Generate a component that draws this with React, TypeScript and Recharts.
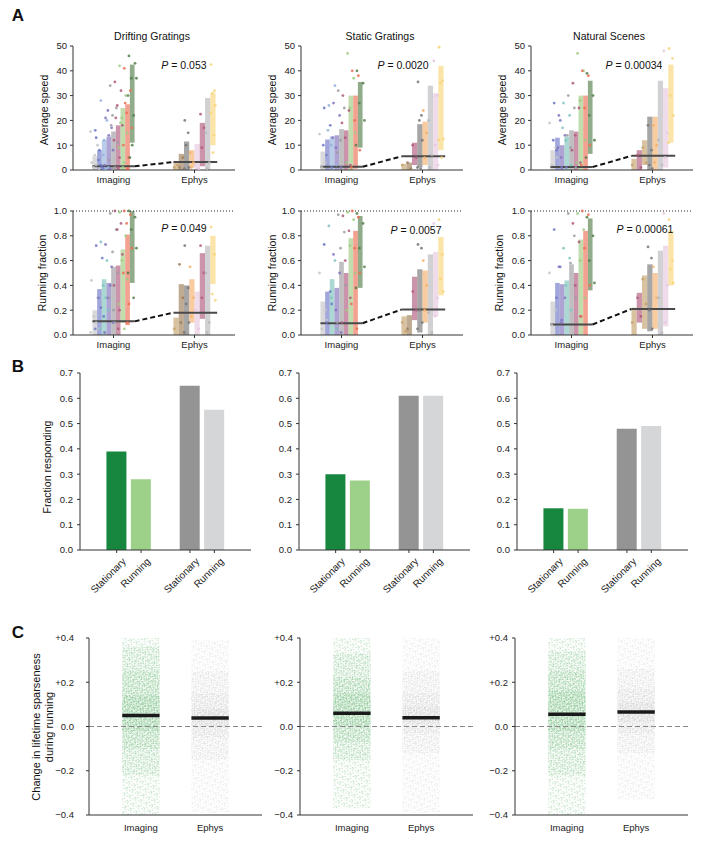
import React from 'react';
import { ComposedChart, BarChart, Bar, Cell, XAxis, YAxis, Scatter, ReferenceArea, ReferenceLine } from 'recharts';

const FONT = '"Liberation Sans", Arial, Helvetica, sans-serif';
const AX = '#333';
const TICK = { fontSize: 9.5, fill: '#222' };

// ---------------- shared labels ----------------
const STIMULI = ['Drifting Gratings', 'Static Gratings', 'Natural Scenes'];
const GROUP_LABELS = ['Imaging', 'Ephys'];
const SPEED_TICKS = [0, 10, 20, 30, 40, 50];
const FRACTION_TICKS = [0, 0.2, 0.4, 0.6, 0.8, 1.0];
const RESP_TICKS = [0, 0.1, 0.2, 0.3, 0.4, 0.5, 0.6, 0.7];
const SPARSE_TICKS = [-0.4, -0.2, 0, 0.2, 0.4];
const P_SPEED = ['0.053', '0.0020', '0.00034'];
const P_RUN = ['0.049', '0.0057', '0.00061'];

// ---------------- Panel A: Drifting gratings ----------------
const dgSpeedImgRanges = [[0, 5.5], [0, 8], [0, 12], [0, 13.5], [0, 15.5], [0, 18], [0, 25], [0, 26.5], [11, 42.5]];
const dgSpeedImgDots = [[3, 10, 1, 0.5, 15.5, 2, 6], [13, 1, 4, 0.5, 16, 2, 8], [28, 20, 6, 1, 3, 0.5, 12], [21, 17, 24, 8, 2, 0.5, 14], [34, 25, 22, 11, 4, 1, 0.5, 18], [35.5, 32, 26, 18, 12, 5, 1, 21], [42, 30, 21, 15, 9, 3, 1, 19], [41, 32, 23, 17, 10, 5, 0.5, 27], [46, 43, 37, 37, 30, 22, 10, 5]];
const dgSpeedEphRanges = [[0, 3], [0, 6.5], [0, 11.5], [1, 8], [0, 10.5], [1.5, 19], [0, 29], [10, 31]];
const dgSpeedEphDots = [[1, 2], [1, 5], [20, 15, 10, 1, 0.5], [7, 3, 1], [2, 0.5], [22.5, 17, 9], [15, 3, 0.5], [42.5, 32, 31, 26, 23, 14, 7]];
const dgSpeedMedians = [1.5, 3.2];

const dgRunImgRanges = [[0, 0.2], [0, 0.37], [0, 0.45], [0, 0.42], [0, 0.55], [0, 0.56], [0.1, 0.69], [0.08, 0.81], [0.42, 1.0]];
const dgRunImgDots = [[0.44, 0.3, 0.15, 0.05, 0.02, 0.1], [0.72, 0.62, 0.3, 0.15, 0.05, 0.22], [0.75, 0.6, 0.4, 0.2, 0.05, 0.3], [0.73, 0.55, 0.3, 0.1, 0.02, 0.4], [0.98, 0.85, 0.67, 0.5, 0.3, 0.1, 0.2], [1.0, 0.9, 0.85, 0.65, 0.4, 0.2, 0.05], [0.99, 0.8, 0.6, 0.45, 0.25, 0.05], [1.0, 0.97, 0.9, 0.7, 0.5, 0.25, 0.1], [1.0, 0.95, 0.85, 0.7, 0.5, 0.3]];
const dgRunEphRanges = [[0, 0.14], [0, 0.41], [0, 0.4], [0.1, 0.45], [0, 0.35], [0.13, 0.66], [0, 0.72], [0.41, 0.8]];
const dgRunEphDots = [[0.05], [0.57, 0.3, 0.1], [0.72, 0.38, 0.25, 0.1, 0.02], [0.55, 0.3, 0.15], [0.2, 0.05], [0.72, 0.5, 0.3], [0.5, 0.1, 0.02], [0.87, 0.65, 0.33, 0.28]];
const dgRunMedians = [0.11, 0.18];

// ---------------- Panel A: Static gratings ----------------
const sgSpeedImgRanges = [[0, 7.5], [0, 12.3], [0, 13.5], [0, 14], [0, 16.5], [0, 16], [0, 30], [0.5, 30], [9, 35.5]];
const sgSpeedImgDots = [[14.5, 3, 1, 6], [25, 18, 6, 1, 10], [26, 34, 10, 2, 16], [27, 22, 9, 1, 13], [32, 25, 12, 3, 7], [30, 24, 13, 2, 19], [47, 37, 25, 15, 3], [40, 38, 20, 8, 1], [40, 35, 27, 20, 10]];
const sgSpeedEphRanges = [[0, 2.5], [0, 3], [2, 11], [1, 18.5], [2, 19.5], [0, 34], [0, 31], [8, 42]];
const sgSpeedEphDots = [[2], [3, 0.5], [10, 5], [35.5, 22, 20, 12, 1, 0.5], [24, 15, 5], [20, 6, 1], [44, 30, 10, 2], [49.5, 36, 35, 12.5, 12, 5]];
const sgSpeedMedians = [1.3, 5.5];

const sgRunImgRanges = [[0, 0.27], [0, 0.35], [0, 0.45], [0, 0.38], [0, 0.59], [0, 0.5], [0, 0.78], [0, 0.84], [0.38, 0.96]];
const sgRunImgDots = [[0.5, 0.2, 0.05, 0.12], [0.73, 0.35, 0.1, 0.25], [0.88, 0.6, 0.3, 0.05], [0.65, 0.5, 0.2, 0.02], [0.97, 0.83, 0.7, 0.4, 0.1], [0.96, 0.84, 0.6, 0.3, 0.1], [0.99, 0.93, 0.72, 0.5, 0.2], [1.0, 0.95, 0.7, 0.5, 0.25, 0.05], [0.98, 0.9, 0.7, 0.55, 0.38]];
const sgRunEphRanges = [[0, 0.15], [0, 0.16], [0.12, 0.47], [0.02, 0.53], [0.1, 0.52], [0, 0.65], [0.15, 0.67], [0.32, 0.79]];
const sgRunEphDots = [[0.1, 0.03], [0.05], [0.35, 0.2], [0.73, 0.7, 0.2, 0.1, 0.05], [0.6, 0.4, 0.2], [0.18, 0.02], [0.9, 0.3, 0.15], [0.93, 0.65, 0.45, 0.35]];
const sgRunMedians = [0.095, 0.205];

// ---------------- Panel A: Natural scenes ----------------
const nsSpeedImgRanges = [[0, 8], [0, 13], [0, 10], [0, 13.5], [0, 16], [0, 15.5], [0, 30], [0, 30], [6.5, 36]];
const nsSpeedImgDots = [[19, 9, 2, 5], [27, 20, 8, 1, 12], [22, 14, 5, 1, 9], [27, 22, 12, 2, 17], [30, 25, 9, 1, 14], [35, 25, 14, 3, 8], [47, 40, 28, 12, 3], [40, 38, 25, 10, 2], [39, 30, 22, 12, 5]];
const nsSpeedEphRanges = [[0, 4.5], [0, 8], [2, 12], [0, 21.5], [0, 21.5], [0, 36], [1, 33], [11, 42.5]];
const nsSpeedEphDots = [[2], [6, 1], [9, 3], [18, 8, 2, 0.5], [18, 10, 3], [12, 2], [48, 15, 5], [49, 45, 30, 22, 11]];
const nsSpeedMedians = [1.2, 5.7];

const nsRunImgRanges = [[0, 0.27], [0, 0.42], [0, 0.41], [0, 0.44], [0, 0.57], [0, 0.5], [0, 0.77], [0, 0.84], [0.36, 0.94]];
const nsRunImgDots = [[0.5, 0.2, 0.08], [0.85, 0.55, 0.3, 0.12], [0.55, 0.3, 0.1], [0.7, 0.62, 0.4, 0.2], [0.98, 0.8, 0.58, 0.3], [0.9, 0.75, 0.4, 0.15], [0.98, 0.85, 0.6, 0.3], [1.0, 0.97, 0.7, 0.4, 0.15], [0.95, 0.8, 0.6, 0.42]];
const nsRunEphRanges = [[0, 0.22], [0.1, 0.34], [0.05, 0.48], [0.03, 0.57], [0.05, 0.5], [0, 0.68], [0.07, 0.72], [0.4, 0.84]];
const nsRunEphDots = [[0.1], [0.3, 0.15], [0.45, 0.25], [0.71, 0.62, 0.2, 0.05], [0.55, 0.3], [0.3, 0.02], [0.98, 0.4, 0.1], [0.93, 0.6, 0.53, 0.42]];
const nsRunMedians = [0.085, 0.21];

// ---------------- Panel B ----------------
const B_LABELS = ['Stationary', 'Running', 'Stationary', 'Running'];
const dgFractionResponding = [0.39, 0.28, 0.65, 0.555];
const sgFractionResponding = [0.30, 0.275, 0.61, 0.61];
const nsFractionResponding = [0.165, 0.163, 0.48, 0.49];

// ---------------- Panel C ----------------
// nested density bands of each cloud (outermost = full range of cells)
const dgSparseImgBands = [[-0.4, 0.4], [-0.22, 0.36], [-0.1, 0.25], [-0.02, 0.14]];
const dgSparseEphBands = [[-0.39, 0.39], [-0.15, 0.25], [-0.05, 0.15], [0, 0.08]];
const dgSparseMedians = [0.05, 0.038];
const sgSparseImgBands = [[-0.37, 0.4], [-0.15, 0.33], [-0.07, 0.22], [0, 0.15]];
const sgSparseEphBands = [[-0.39, 0.4], [-0.12, 0.25], [-0.03, 0.15], [0.01, 0.09]];
const sgSparseMedians = [0.06, 0.04];
const nsSparseImgBands = [[-0.4, 0.4], [-0.22, 0.34], [-0.1, 0.25], [-0.02, 0.16]];
const nsSparseEphBands = [[-0.33, 0.4], [-0.12, 0.26], [-0.03, 0.17], [0.02, 0.11]];
const nsSparseMedians = [0.055, 0.065];

// ---------------- styles ----------------
const PALETTE: Record<string, string> = {
  lightgrey: '#c4c4c8', blue: '#6f78c6', lightblue: '#93b1dc', purple: '#8273bd', teal: '#7fc3bd',
  grey: '#9c9ca2', mauve: '#b05a7c', lightgreen: '#9fcb82', salmon: '#ec6e55', darkgreen: '#547f4b',
  tan: '#c4a16c', brown: '#9c7d57', darkgrey: '#777777', orange: '#f4b06c', lightpink: '#e6c7df',
  egrey: '#b9b9bc', yellow: '#f8d57a',
};
const IMG_COL_A = ['lightgrey', 'blue', 'lightblue', 'purple', 'grey', 'mauve', 'lightgreen', 'salmon', 'darkgreen'];
const IMG_COL_B = ['lightgrey', 'blue', 'teal', 'purple', 'grey', 'mauve', 'lightgreen', 'salmon', 'darkgreen'];
const IMG_COL_C = ['lightgrey', 'blue', 'purple', 'teal', 'grey', 'mauve', 'lightgreen', 'salmon', 'darkgreen'];
const EPH_COL_DG = ['tan', 'brown', 'darkgrey', 'orange', 'lightpink', 'mauve', 'egrey', 'yellow'];
const EPH_COL_SG = ['tan', 'brown', 'mauve', 'darkgrey', 'orange', 'egrey', 'lightpink', 'yellow'];
const EPH_COL_NS = ['tan', 'mauve', 'tan', 'darkgrey', 'orange', 'egrey', 'lightpink', 'yellow'];
const B_COLORS = ['#17873f', '#9dd18a', '#949494', '#d5d6d8'];
const OFFS = [-0.35, 0.3, -0.1, 0.45, -0.45, 0.15, 0.0, -0.25];
// speckle tiles used to texture the point clouds (size, rotation, dot positions)
const SPECKLES = [
  { size: 6, rot: 23, pts: [[0.8, 1.1], [3.9, 0.4], [2.2, 3.3], [5.1, 4.6], [0.5, 5.2]] },
  { size: 5, rot: 61, pts: [[1.3, 0.9], [3.6, 2.2], [0.4, 3.7], [2.8, 4.4]] },
  { size: 5, rot: 12, pts: [[0.7, 2.6], [2.4, 0.3], [4.1, 3.9], [3.1, 1.8]] },
  { size: 4, rot: 37, pts: [[0.9, 1.6], [2.9, 0.5], [2.3, 3.2]] },
];

const Txt = ({ x, y, size = 10, rot = 0, bold = false, lh = 1.15, children }: any) => (
  <div style={{ position: 'absolute', left: x, top: y, transform: `translate(-50%,-50%) rotate(${rot}deg)`, fontSize: size, fontWeight: bold ? 700 : 400, whiteSpace: 'nowrap', lineHeight: lh, textAlign: 'center', color: '#111' }}>{children}</div>
);

function PanelA({ ax, top, yMax, ticks, fmt, imgR, imgD, imgC, ephR, ephD, ephC, med, dotted }: any) {
  const W = 212, H = 154;
  const areas: any[] = [];
  const dots: any[] = [];
  const addGroup = (center: number, ranges: number[][], dd: number[][], cols: string[], spread: number, tag: string) => {
    const n = ranges.length;
    const w = 1.04 / n;
    ranges.forEach((r, i) => {
      const x1 = center - 0.52 + i * w;
      const c = PALETTE[cols[i]];
      areas.push(<ReferenceArea key={`a${tag}${i}`} x1={x1} x2={x1 + w} y1={r[0]} y2={r[1]} fill={c} fillOpacity={0.65} stroke="none" ifOverflow="visible" />);
      const cx = x1 + w / 2;
      const pts = dd[i].map((v, k) => ({ x: cx + OFFS[k % OFFS.length] * w * spread, y: v }));
      dots.push(<Scatter key={`s${tag}${i}`} data={pts} isAnimationActive={false}
        shape={(s: any) => <circle cx={s.cx} cy={s.cy} r={1.4} fill={c} fillOpacity={0.85} />} />);
    });
  };
  addGroup(1, imgR, imgD, imgC, 2.0, 'i');
  addGroup(3, ephR, ephD, ephC, 1.0, 'e');
  return (
    <div style={{ position: 'absolute', left: ax - 40, top: top - 8 }}>
      <ComposedChart width={W} height={H} margin={{ top: 8, right: W - 40 - 162, bottom: 0, left: 0 }}>
        <XAxis type="number" dataKey="x" domain={[0, 4]} ticks={[1, 3]} interval={0}
          tickFormatter={(v: number) => (v === 1 ? GROUP_LABELS[0] : GROUP_LABELS[1])}
          height={22} tickSize={3} tickMargin={3} stroke={AX} tick={TICK} />
        <YAxis type="number" dataKey="y" domain={[0, yMax]} ticks={ticks} interval={0} tickFormatter={fmt}
          width={40} tickSize={3} tickMargin={3} stroke={AX} tick={TICK} />
        {dotted && <ReferenceLine y={yMax} stroke="#222" strokeDasharray="1 2" strokeWidth={1} ifOverflow="visible" />}
        {areas}
        {dots}
        <ReferenceLine segment={[{ x: 0.48, y: med[0] }, { x: 1.52, y: med[0] }]} stroke="#4a4a4a" strokeWidth={2} ifOverflow="visible" />
        <ReferenceLine segment={[{ x: 1.52, y: med[0] }, { x: 2.48, y: med[1] }]} stroke="#111" strokeWidth={2} strokeDasharray="5 3" ifOverflow="visible" />
        <ReferenceLine segment={[{ x: 2.48, y: med[1] }, { x: 3.56, y: med[1] }]} stroke="#4a4a4a" strokeWidth={2} ifOverflow="visible" />
      </ComposedChart>
    </div>
  );
}

function PanelB({ ax, vals }: any) {
  const W = 219, H = 245;
  const slots = [-1, 0, 1, -1, 2, 3, -1];
  const rows = slots.map((s, i) => ({ k: `k${i}`, v: s >= 0 ? vals[s] : null, lab: s >= 0 ? B_LABELS[s] : '', c: s >= 0 ? B_COLORS[s] : 'none' }));
  const tick = (p: any) => {
    const r = rows[p.index];
    if (!r || !r.lab) return <g />;
    const axisY = p.y - 5;
    const tx = p.x + 10, ty = axisY + 12;
    return (
      <g>
        <line x1={p.x} x2={p.x} y1={axisY} y2={axisY + 3} stroke={AX} />
        <text x={tx} y={ty} textAnchor="end" fontSize={10} fill="#222" transform={`rotate(-45, ${tx}, ${ty})`}>{r.lab}</text>
      </g>
    );
  };
  return (
    <div style={{ position: 'absolute', left: ax - 40, top: 365 }}>
      <BarChart width={W} height={H} data={rows} margin={{ top: 8, right: W - 40 - 171, bottom: 0, left: 0 }}>
        <XAxis dataKey="k" type="category" interval={0} tick={tick} tickLine={false} tickSize={3} tickMargin={2} height={60} stroke={AX} />
        <YAxis type="number" domain={[0, 0.7]} ticks={RESP_TICKS} interval={0} tickFormatter={(v: number) => v.toFixed(1)}
          width={40} tickSize={3} tickMargin={4} stroke={AX} tick={TICK} />
        <Bar dataKey="v" barSize={20} isAnimationActive={false}>
          {rows.map((r, i) => <Cell key={i} fill={r.c} />)}
        </Bar>
      </BarChart>
    </div>
  );
}

function PanelC({ ax, id, imgB, ephB, med, tm }: any) {
  const W = 226, H = 215;
  const G = '#2f9d40', K = '#6e6e6e';
  const pat = (pid: string, col: string, sp: any, op: number) => (
    <pattern key={pid} id={pid} width={sp.size} height={sp.size} patternUnits="userSpaceOnUse" patternTransform={`rotate(${sp.rot})`}>
      {sp.pts.map((q: number[], i: number) => <circle key={i} cx={q[0]} cy={q[1]} r={0.62} fill={col} fillOpacity={op} />)}
    </pattern>
  );
  const cloud = (center: number, bands: number[][], pre: string) =>
    bands.map((b, i) => (
      <ReferenceArea key={`${pre}${i}`} x1={center - 0.27} x2={center + 0.27} y1={b[0]} y2={b[1]} fill={`url(#${pre}${i}-${id})`} stroke="none" ifOverflow="visible" />
    ));
  const medPts = [{ x: 0, y: med[0] }, { x: 1, y: med[1] }];
  return (
    <div style={{ position: 'absolute', left: ax - 45, top: 630 }}>
      <ComposedChart width={W} height={H} margin={{ top: 8, right: W - 45 - 173, bottom: 0, left: 0 }}>
        <defs>
          {SPECKLES.map((sp, i) => pat(`g${i}-${id}`, G, sp, 0.85))}
          {SPECKLES.map((sp, i) => pat(`k${i}-${id}`, K, sp, 0.45))}
        </defs>
        <XAxis type="number" dataKey="x" domain={[-0.75, 1.75]} ticks={[0, 1]} interval={0}
          tickFormatter={(v: number) => (v === 0 ? GROUP_LABELS[0] : GROUP_LABELS[1])}
          height={30} tickLine={false} tickSize={0} tickMargin={9} stroke={AX} tick={TICK} />
        <YAxis type="number" dataKey="y" domain={[-0.4, 0.4]} ticks={SPARSE_TICKS} interval={0}
          tickFormatter={(v: number) => (v > 0.001 ? `+${v.toFixed(1)}` : v < -0.001 ? `\u2212${Math.abs(v).toFixed(1)}` : '0.0')}
          width={45} tickSize={3} tickMargin={tm} stroke={AX} tick={TICK} />
        {cloud(0, imgB, 'g')}
        {cloud(1, ephB, 'k')}
        <ReferenceLine y={0} stroke="#888" strokeDasharray="5 3" strokeWidth={1.2} />
        <Scatter data={medPts} isAnimationActive={false} shape={() => <g />} />
        <ReferenceLine segment={[{ x: -0.27, y: med[0] }, { x: 0.27, y: med[0] }]} stroke="#1a1a1a" strokeWidth={3.5} ifOverflow="visible" />
        <ReferenceLine segment={[{ x: 0.73, y: med[1] }, { x: 1.27, y: med[1] }]} stroke="#1a1a1a" strokeWidth={3.5} ifOverflow="visible" />
      </ComposedChart>
    </div>
  );
}

const speedFmt = (v: number) => String(v);
const fracFmt = (v: number) => v.toFixed(1);

export default function App() {
  const AXA = [73, 301, 531];
  const speed = [
    [dgSpeedImgRanges, dgSpeedImgDots, IMG_COL_A, dgSpeedEphRanges, dgSpeedEphDots, EPH_COL_DG, dgSpeedMedians],
    [sgSpeedImgRanges, sgSpeedImgDots, IMG_COL_A, sgSpeedEphRanges, sgSpeedEphDots, EPH_COL_SG, sgSpeedMedians],
    [nsSpeedImgRanges, nsSpeedImgDots, IMG_COL_C, nsSpeedEphRanges, nsSpeedEphDots, EPH_COL_NS, nsSpeedMedians],
  ];
  const run = [
    [dgRunImgRanges, dgRunImgDots, IMG_COL_B, dgRunEphRanges, dgRunEphDots, EPH_COL_DG, dgRunMedians],
    [sgRunImgRanges, sgRunImgDots, IMG_COL_B, sgRunEphRanges, sgRunEphDots, EPH_COL_SG, sgRunMedians],
    [nsRunImgRanges, nsRunImgDots, IMG_COL_C, nsRunEphRanges, nsRunEphDots, EPH_COL_NS, nsRunMedians],
  ];
  const pSpeedPos = [[184, 65], [403, 65], [634, 65]];
  const pRunPos = [[184, 228], [416, 230], [645, 229]];
  return (
    <div style={{ position: 'absolute', left: 0, top: 0, width: 707, height: 852, background: '#fff', fontFamily: FONT, overflow: 'hidden' }}>
      {speed.map((d: any, i) => (
        <PanelA key={`sp${i}`} ax={AXA[i]} top={46} yMax={50} ticks={SPEED_TICKS} fmt={speedFmt}
          imgR={d[0]} imgD={d[1]} imgC={d[2]} ephR={d[3]} ephD={d[4]} ephC={d[5]} med={d[6]} dotted={false} />
      ))}
      {run.map((d: any, i) => (
        <PanelA key={`rn${i}`} ax={AXA[i]} top={211} yMax={1} ticks={FRACTION_TICKS} fmt={fracFmt}
          imgR={d[0]} imgD={d[1]} imgC={d[2]} ephR={d[3]} ephD={d[4]} ephC={d[5]} med={d[6]} dotted={true} />
      ))}
      <PanelB ax={80} vals={dgFractionResponding} />
      <PanelB ax={299} vals={sgFractionResponding} />
      <PanelB ax={517} vals={nsFractionResponding} />
      <PanelC ax={89} id="c1" imgB={dgSparseImgBands} ephB={dgSparseEphBands} med={dgSparseMedians} tm={12} />
      <PanelC ax={300} id="c2" imgB={sgSparseImgBands} ephB={sgSparseEphBands} med={sgSparseMedians} tm={4} />
      <PanelC ax={515} id="c3" imgB={nsSparseImgBands} ephB={nsSparseEphBands} med={nsSparseMedians} tm={4} />

      <Txt x={18} y={16} size={17} bold>A</Txt>
      <Txt x={18} y={367} size={17} bold>B</Txt>
      <Txt x={18} y={633} size={17} bold>C</Txt>
      <Txt x={152} y={36} size={10.5}>{STIMULI[0]}</Txt>
      <Txt x={380} y={36} size={10.5}>{STIMULI[1]}</Txt>
      <Txt x={609} y={36} size={10.5}>{STIMULI[2]}</Txt>
      {pSpeedPos.map((p, i) => (
        <Txt key={`ps${i}`} x={p[0]} y={p[1]} size={10.5}><i>P</i> = {P_SPEED[i]}</Txt>
      ))}
      {pRunPos.map((p, i) => (
        <Txt key={`pr${i}`} x={p[0]} y={p[1]} size={10.5}><i>P</i> = {P_RUN[i]}</Txt>
      ))}
      <Txt x={44} y={110} size={10.5} rot={-90}>Average speed</Txt>
      <Txt x={272} y={110} size={10.5} rot={-90}>Average speed</Txt>
      <Txt x={502} y={110} size={10.5} rot={-90}>Average speed</Txt>
      <Txt x={42} y={273} size={10.5} rot={-90}>Running fraction</Txt>
      <Txt x={272} y={273} size={10.5} rot={-90}>Running fraction</Txt>
      <Txt x={499} y={273} size={10.5} rot={-90}>Running fraction</Txt>
      <Txt x={47} y={467} size={10.5} rot={-90}>Fraction responding</Txt>
      <Txt x={43} y={727} size={11} rot={-90} lh={1.2}>Change in lifetime sparseness<br />during running</Txt>
    </div>
  );
}
